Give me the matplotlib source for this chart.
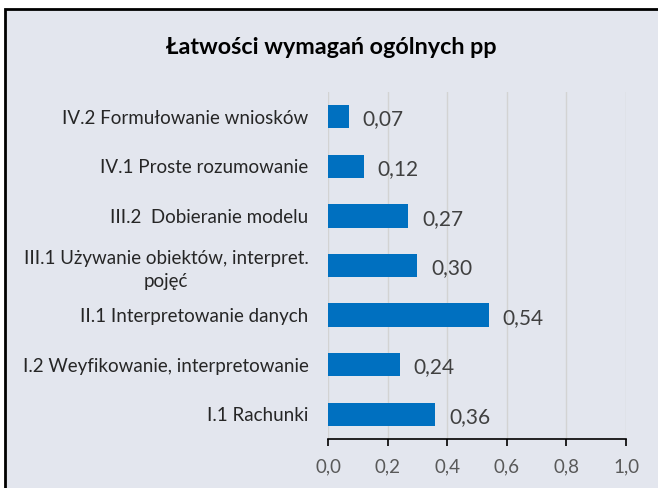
import matplotlib.pyplot as plt
from matplotlib.patches import Rectangle
from matplotlib.ticker import FuncFormatter

categories = [
    "I.1 Rachunki",
    "I.2 Weyfikowanie, interpretowanie",
    "II.1 Interpretowanie danych",
    "III.1 Używanie obiektów, interpret.\npojęć",
    "III.2  Dobieranie modelu",
    "IV.1 Proste rozumowanie",
    "IV.2 Formułowanie wniosków",
]
values = [0.36, 0.24, 0.54, 0.30, 0.27, 0.12, 0.07]
x_ticks = [0.0, 0.2, 0.4, 0.6, 0.8, 1.0]

bg = "#E3E6EE"
plt.rcParams["font.family"] = ["Lato", "DejaVu Sans"]

fig = plt.figure(figsize=(6.58, 4.88), dpi=100, facecolor="white")
fig.patches.append(Rectangle((5 / 658, -0.05), 1.1, 1 - 9 / 488 + 0.05,
                             transform=fig.transFigure, facecolor=bg,
                             edgecolor="black", linewidth=2, zorder=-1))

ax = fig.add_axes([0.4985, 0.1004, 0.4529, 0.7111])
ax.set_facecolor(bg)

ax.barh(range(len(values)), values, height=0.47, color="#0070C0", zorder=3)
for i, v in enumerate(values):
    ax.annotate(f"{v:.2f}".replace(".", ","), (v, i), xytext=(10, -2),
                textcoords="offset points", va="center", ha="left",
                fontsize=15, color="#404040")

ax.set_xlim(0, 1.0)
ax.set_ylim(-0.5, len(values) - 0.5)
ax.set_xticks(x_ticks)
ax.xaxis.set_major_formatter(FuncFormatter(lambda x, p: f"{x:.1f}".replace(".", ",")))
ax.set_yticks(range(len(values)))
ax.set_yticklabels(categories, multialignment="center", linespacing=1.45)
ax.tick_params(axis="y", length=0, pad=14, labelsize=13.5, labelcolor="#262626")
ax.tick_params(axis="x", length=5, width=1.2, direction="out", pad=9,
               labelsize=13.5, labelcolor="#595959", color="black")
ax.grid(axis="x", color="#D3D3D3", linewidth=1, zorder=0)
for side in ["top", "right", "left"]:
    ax.spines[side].set_visible(False)
ax.spines["bottom"].set_color("black")
ax.spines["bottom"].set_linewidth(1.2)

fig.text(0.503, 1 - 47 / 488, "Łatwości wymagań ogólnych pp", ha="center",
         va="center", fontsize=16.8, fontweight="bold", color="black")

fig.savefig("out.png", dpi=100, facecolor="white")
